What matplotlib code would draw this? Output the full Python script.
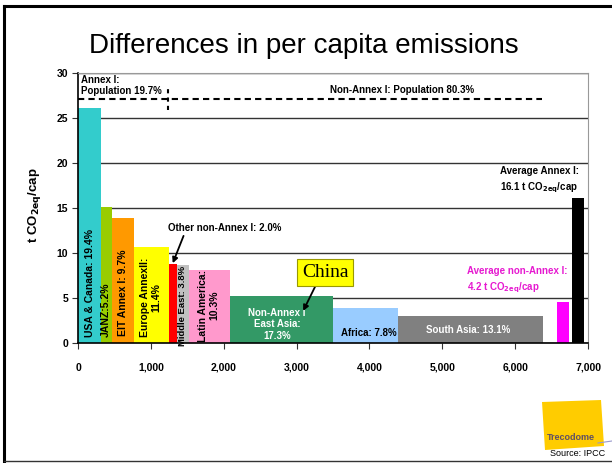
import numpy as np
import matplotlib
matplotlib.use("Agg")
import matplotlib.pyplot as plt
from matplotlib.patches import Polygon
from matplotlib.lines import Line2D

plt.rcParams['font.family'] = ['Liberation Sans', 'DejaVu Sans']

# population (millions) per region and emissions per capita (t CO2eq/cap)
regions = ["USA & Canada", "JANZ", "EIT Annex I", "Europe AnnexII", "Other non-Annex I",
           "Middle East", "Latin America", "Non-Annex I East Asia", "Africa", "South Asia"]
pop_width = [315, 145, 307, 481, 110, 165, 562, 1413, 892, 1989]
per_capita = [26.1, 15.2, 13.9, 10.7, 8.8, 8.7, 8.2, 5.3, 3.9, 3.0]
colors = ['#33CCCC', '#99CC00', '#FF9900', '#FFFF00', '#FF0000',
          '#C0C0C0', '#FF99CC', '#339966', '#99CCFF', '#808080']

# average bars
avg_left = [6571, 6776]
avg_width = [164, 165]
avg_value = [4.6, 16.2]
avg_colors = ['#FF00FF', '#000000']

xticks = [0, 1000, 2000, 3000, 4000, 5000, 6000, 7000]
xtick_labels = ["0", "1,000", "2,000", "3,000", "4,000", "5,000", "6,000", "7,000"]
yticks = [0, 5, 10, 15, 20, 25, 30]

lefts = np.concatenate([[0], np.cumsum(pop_width)[:-1]])

fig = plt.figure(figsize=(6.12, 4.63), dpi=100)
ax = fig.add_axes([0.1275, 0.2585, 0.8333, 0.5832])

ax.set_axisbelow(True)
ax.grid(axis='y', color='#333333', linewidth=1)
ax.bar(lefts, per_capita, width=pop_width, align='edge', color=colors, linewidth=0)
ax.bar(avg_left, avg_value, width=avg_width, align='edge', color=avg_colors, linewidth=0)

ax.set_xlim(0, 7000)
ax.set_ylim(0, 30)
ax.set_xticks(xticks)
ax.set_xticklabels(xtick_labels, fontsize=7.5, fontweight='bold')
ax.set_yticks(yticks)
ax.set_yticklabels([str(v) for v in yticks], fontsize=7.5, fontweight='bold')
ax.tick_params(axis='x', length=4, pad=10, color='#333333')
ax.tick_params(axis='y', length=4, pad=3, color='#333333')
for s in ['top', 'right']:
    ax.spines[s].set_color('#999999')
for s in ['left', 'bottom']:
    ax.spines[s].set_color('black')
    ax.spines[s].set_linewidth(1.2)
ax.set_ylabel(r't CO$_\mathbf{2eq}$/cap', fontsize=9.5, fontweight='bold')
ax.yaxis.set_label_coords(-0.068, 0.51)

# annex split dashed line
ax.plot([0, 6370], [27.1, 27.1], color='black', linestyle=(0, (3, 2)), linewidth=1.5)
ax.plot([1230, 1230], [25.9, 28.5], color='black', linestyle=(0, (2, 2)), linewidth=1.5)
ax.text(40, 29.85, "Annex I:\nPopulation 19.7%", fontsize=7, fontweight='bold',
        va='top', ha='left', linespacing=1.2)
ax.text(4450, 28.1, "Non-Annex I: Population 80.3%", fontsize=7, fontweight='bold',
        va='center', ha='center')

# labels inside bars
ax.text(165, 6.7, "USA & Canada: 19.4%", rotation=90, fontsize=7.5, fontweight='bold',
        ha='center', va='center')
ax.text(385, 3.7, "JANZ:5.2%", rotation=90, fontsize=7.5, fontweight='bold',
        ha='center', va='center')
ax.text(620, 5.6, "EIT Annex I: 9.7%", rotation=90, fontsize=7.5, fontweight='bold',
        ha='center', va='center')
ax.text(1000, 5.1, "Europe AnnexII:\n11.4%", rotation=90, fontsize=7.5, fontweight='bold',
        ha='center', va='center', multialignment='center')
ax.text(1440, 4.2, "Middle East: 3.8%", rotation=90, fontsize=6.8, fontweight='bold',
        ha='center', va='center')
ax.text(1790, 4.2, "Latin America:\n10.3%", rotation=90, fontsize=7.5, fontweight='bold',
        ha='center', va='center', multialignment='center')
ax.text(2730, 2.1, "Non-Annex I\nEast Asia:\n17.3%", fontsize=7, fontweight='bold',
        color='white', ha='center', va='center', multialignment='center')
ax.text(3990, 1.2, "Africa: 7.8%", fontsize=7, fontweight='bold', ha='center', va='center')
ax.text(5360, 1.45, "South Asia: 13.1%", fontsize=7, fontweight='bold', color='white',
        ha='center', va='center')

# averages
ax.text(5790, 18.1, "Average Annex I:\n16.1 t CO$_\\mathbf{2eq}$/cap", fontsize=7,
        fontweight='bold', ha='left', va='center', linespacing=1.5)
ax.text(5340, 7.0, "Average non-Annex I:\n4.2 t CO$_\\mathbf{2eq}$/cap", fontsize=7,
        fontweight='bold', color='#E619D0', ha='left', va='center', linespacing=1.5)

# arrows
ax.annotate("Other non-Annex I: 2.0%", xy=(1300, 8.9), xytext=(1230, 12.8),
            fontsize=7, fontweight='bold', ha='left', va='center',
            arrowprops=dict(arrowstyle='-|>', color='black', lw=1.3,
                            shrinkA=0, shrinkB=0, mutation_scale=8,
                            relpos=(0.15, 0.0)))
ax.annotate("China", xy=(3090, 3.6), xytext=(3390, 7.9),
            fontsize=14, family='Liberation Serif', ha='center', va='center',
            bbox=dict(boxstyle='square,pad=0.25', fc='#FFFF00', ec='#999900', lw=0.8),
            arrowprops=dict(arrowstyle='-|>', color='black', lw=1.3,
                            shrinkA=0, shrinkB=0, mutation_scale=8,
                            relpos=(0.35, 0.0)))

# title
fig.text(0.497, 0.900, "Differences in per capita emissions", fontsize=20,
         ha='center', va='center')

# slide border
fig.add_artist(Line2D([0.007, 1.0], [0.987, 0.987], color='black', lw=2.2))
fig.add_artist(Line2D([0.007, 0.007], [0.987, 0.004], color='black', lw=2.2))
fig.add_artist(Line2D([0.007, 1.0], [0.005, 0.005], color='#333333', lw=1.0))

# logo
logo = Polygon([[542 / 612, 1 - 402 / 463], [601 / 612, 1 - 400 / 463],
                [604 / 612, 1 - 446 / 463], [545 / 612, 1 - 450 / 463]],
               closed=True, transform=fig.transFigure, fc='#FFCC00', ec='none')
fig.add_artist(logo)
fig.text(571 / 612, 1 - 438 / 463, "Trecodome", fontsize=6.5, fontweight='bold',
         color='#5E4E66', ha='center', va='center')
fig.add_artist(Line2D([598 / 612, 612 / 612], [1 - 443 / 463, 1 - 441 / 463],
                      color='#9999CC', lw=0.8))
fig.text(578 / 612, 1 - 453 / 463, "Source: IPCC", fontsize=6.5,
         color='black', ha='center', va='center')

fig.savefig("out.png", dpi=100)
